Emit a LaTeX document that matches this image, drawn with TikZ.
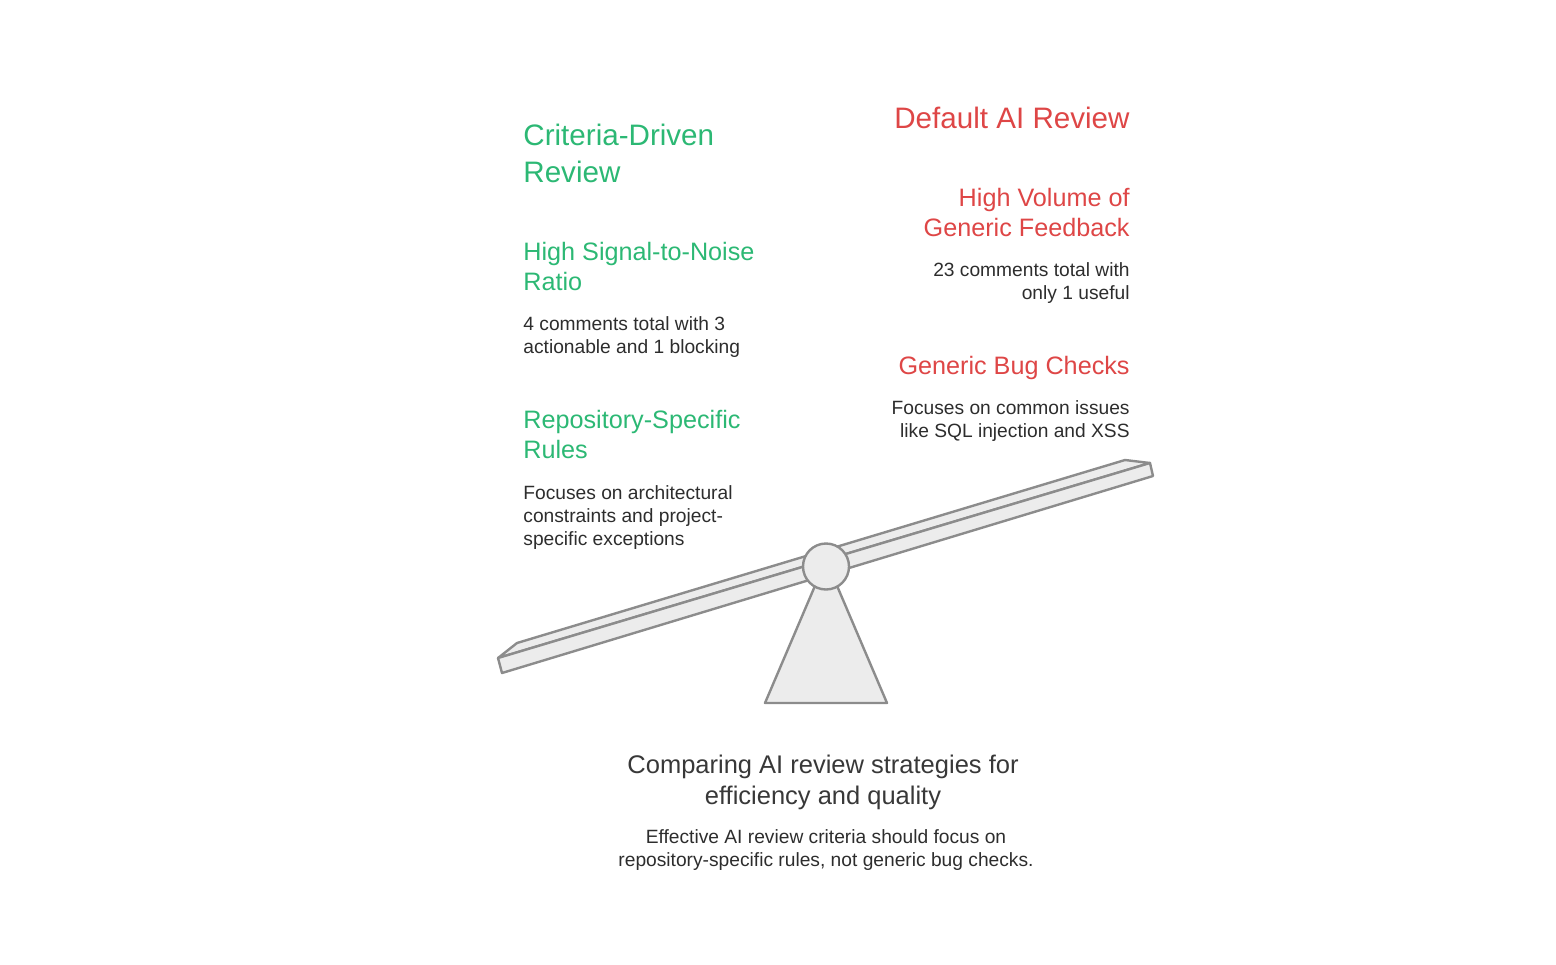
\documentclass[tikz,border=0pt]{standalone}
\usepackage{fontspec}
\setmainfont{Liberation Sans}
\definecolor{critgreen}{RGB}{44,184,116}
\definecolor{defred}{RGB}{222,70,70}
\definecolor{bodygray}{RGB}{45,45,45}
\definecolor{barline}{RGB}{140,140,140}
\definecolor{barfill}{RGB}{236,236,236}
\tikzset{
  head/.style={font=\fontsize{14.8pt}{18.5pt}\selectfont,inner sep=0pt},
  sub/.style={font=\fontsize{12.6pt}{15pt}\selectfont,inner sep=0pt},
  txt/.style={font=\fontsize{9.6pt}{11.5pt}\selectfont,text=bodygray,inner sep=0pt},
  bar/.style={draw=barline,fill=barfill,line width=1.2pt,line join=round}
}
\begin{document}
\begin{tikzpicture}[x=0.5pt,y=-0.5pt]
  \useasboundingbox (0,0) rectangle (1556,964);
  % left side: criteria-driven review (placed at baseline of last line)
  \node (crit) [head,text=critgreen,anchor=base west,align=left] at (523,182) {Criteria-Driven\\Review};
  \node (critsig) [sub,text=critgreen,anchor=base west,align=left] at (523,290) {High Signal-to-Noise\\Ratio};
  \node (critsigtxt) [txt,anchor=base west,align=left] at (523,353) {4 comments total with 3\\actionable and 1 blocking};
  \node (critrules) [sub,text=critgreen,anchor=base west,align=left] at (523,458) {Repository-Specific\\Rules};
  \node (critrulestxt) [txt,anchor=base west,align=left] at (523,545) {Focuses on architectural\\constraints and project-\\specific exceptions};
  % right side: default review
  \node (def) [head,text=defred,anchor=base east,align=right] at (1130,128) {Default AI Review};
  \node (defvol) [sub,text=defred,anchor=base east,align=right] at (1130,236) {High Volume of\\Generic Feedback};
  \node (defvoltxt) [txt,anchor=base east,align=right] at (1130,299) {23 comments total with\\only 1 useful};
  \node (defbug) [sub,text=defred,anchor=base east,align=right] at (1130,374) {Generic Bug Checks};
  \node (defbugtxt) [txt,anchor=base east,align=right] at (1130,437) {Focuses on common issues\\like SQL injection and XSS};
  % seesaw
  \draw[bar] (826,560) -- (887,703) -- (765,703) -- cycle;
  \draw[bar] (517,643) -- (1125,460) -- (1150,463) -- (498,658) -- cycle;
  \draw[bar] (498,658) -- (1150,463) -- (1153,476) -- (502,673) -- cycle;
  \draw[bar] (826,566.5) circle (11.5pt);
  % caption
  \node (cap) [font=\fontsize{12.75pt}{15.5pt}\selectfont,text=bodygray!95,inner sep=0pt,anchor=base,align=center] at (823,804) {Comparing AI review strategies for\\efficiency and quality};
  \node (captxt) [txt,anchor=base,align=center] at (826,866) {Effective AI review criteria should focus on\\repository-specific rules, not generic bug checks.};
\end{tikzpicture}
\end{document}
